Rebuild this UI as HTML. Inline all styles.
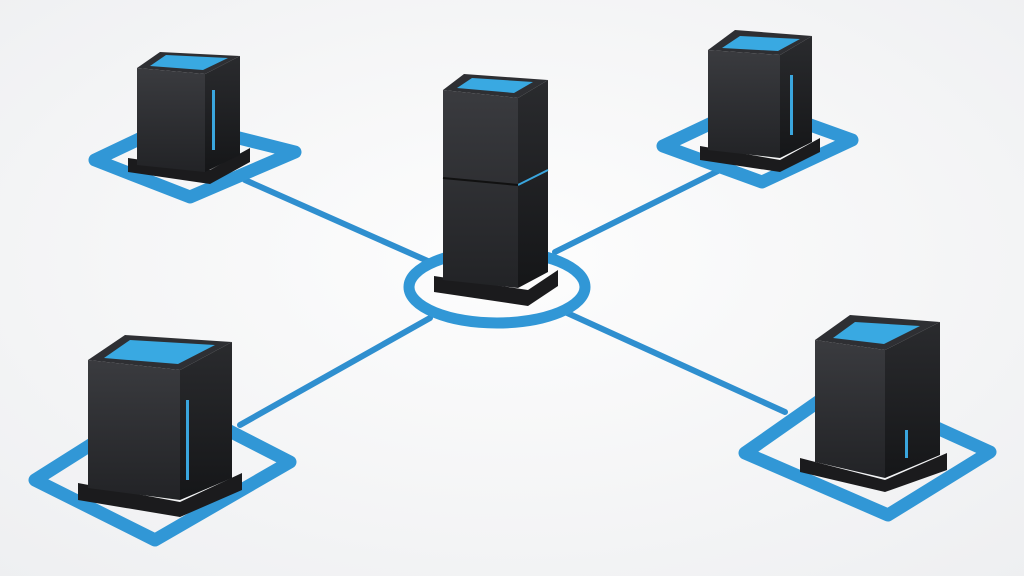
<!DOCTYPE html>
<html><head><meta charset="utf-8"><style>
html,body{margin:0;padding:0;background:#f6f6f8;}
svg{display:block;}
</style></head><body>
<svg width="1024" height="576" viewBox="0 0 1024 576" xmlns="http://www.w3.org/2000/svg">
<defs>
<radialGradient id="bg" cx="50%" cy="45%" r="75%">
<stop offset="0" stop-color="#fdfdfd"/><stop offset="1" stop-color="#eeeff1"/>
</radialGradient>
<linearGradient id="fr" x1="0" y1="0" x2="0" y2="1"><stop offset="0" stop-color="#3a3b3f"/><stop offset="1" stop-color="#222326"/></linearGradient>
<linearGradient id="sd" x1="0" y1="0" x2="0" y2="1"><stop offset="0" stop-color="#2a2b2e"/><stop offset="1" stop-color="#151618"/></linearGradient>
</defs>
<rect width="1024" height="576" fill="url(#bg)"/>
<g stroke="#2f8fcf" stroke-width="6" stroke-linecap="round" fill="none">
<line x1="245" y1="180" x2="430" y2="262"/>
<line x1="555" y1="252" x2="720" y2="170"/>
<line x1="240" y1="425" x2="430" y2="318"/>
<line x1="565" y1="312" x2="785" y2="412"/>
</g>
<g fill="none" stroke="#3197d6" stroke-width="13" stroke-linejoin="round">
<polygon points="95,160 175,122 295,152 190,197"/>
<polygon points="663,146 752,104 852,140 762,182"/>
<polygon points="35,480 165,398 290,462 155,540"/>
<polygon points="745,453 842,385 990,452 888,515"/>
</g>
<ellipse cx="497" cy="287" rx="88" ry="36" fill="none" stroke="#3197d6" stroke-width="11"/>

<!-- server TL -->
<polygon points="128,158 210,170 250,148 250,162 210,184 128,172" fill="#1b1b1d"/>
<polygon points="137,68 205,74 205,172 137,165" fill="url(#fr)"/>
<polygon points="205,74 240,56 240,155 205,172" fill="url(#sd)"/>
<polygon points="137,68 160,52 240,56 205,74" fill="#2e2f33"/>
<polygon points="150,66 166,55 228,58 203,70" fill="#39a9e2"/>
<rect x="212" y="90" width="3" height="60" fill="#3aa6de"/>

<!-- server TR -->
<polygon points="700,146 780,160 820,138 820,152 780,172 700,160" fill="#1b1b1d"/>
<polygon points="708,50 780,55 780,158 708,150" fill="url(#fr)"/>
<polygon points="780,55 812,36 812,142 780,158" fill="url(#sd)"/>
<polygon points="708,50 735,30 812,36 780,55" fill="#2e2f33"/>
<polygon points="722,48 740,36 800,39 778,51" fill="#39a9e2"/>
<rect x="790" y="75" width="3" height="60" fill="#3aa6de"/>

<!-- center -->
<polygon points="434,276 528,290 558,270 558,286 528,306 434,292" fill="#1b1b1d"/>
<polygon points="443,90 518,98 518,288 443,280" fill="url(#fr)"/>
<polygon points="518,98 548,80 548,272 518,288" fill="url(#sd)"/>
<polygon points="443,90 464,74 548,80 518,98" fill="#2e2f33"/>
<polygon points="457,88 472,78 533,82 514,93" fill="#39a9e2"/>
<line x1="518" y1="185" x2="548" y2="170" stroke="#3aa6de" stroke-width="2"/>
<line x1="443" y1="178" x2="518" y2="185" stroke="#111" stroke-width="2"/>

<!-- server BL -->
<polygon points="78,483 180,502 242,473 242,490 180,517 78,500" fill="#1b1b1d"/>
<polygon points="88,360 180,370 180,500 88,488" fill="url(#fr)"/>
<polygon points="180,370 232,342 232,478 180,500" fill="url(#sd)"/>
<polygon points="88,360 125,335 232,342 180,370" fill="#2e2f33"/>
<polygon points="104,358 130,340 215,345 178,364" fill="#39a9e2"/>
<rect x="186" y="400" width="3" height="80" fill="#3aa6de"/>

<!-- server BR -->
<polygon points="800,458 885,480 947,453 947,470 885,492 800,472" fill="#1b1b1d"/>
<polygon points="815,340 885,350 885,478 815,462" fill="url(#fr)"/>
<polygon points="885,350 940,322 940,455 885,478" fill="url(#sd)"/>
<polygon points="815,340 850,315 940,322 885,350" fill="#2e2f33"/>
<polygon points="833,338 855,322 920,326 884,344" fill="#39a9e2"/>
<rect x="905" y="430" width="3" height="28" fill="#3aa6de"/>
</svg>
</body></html>
